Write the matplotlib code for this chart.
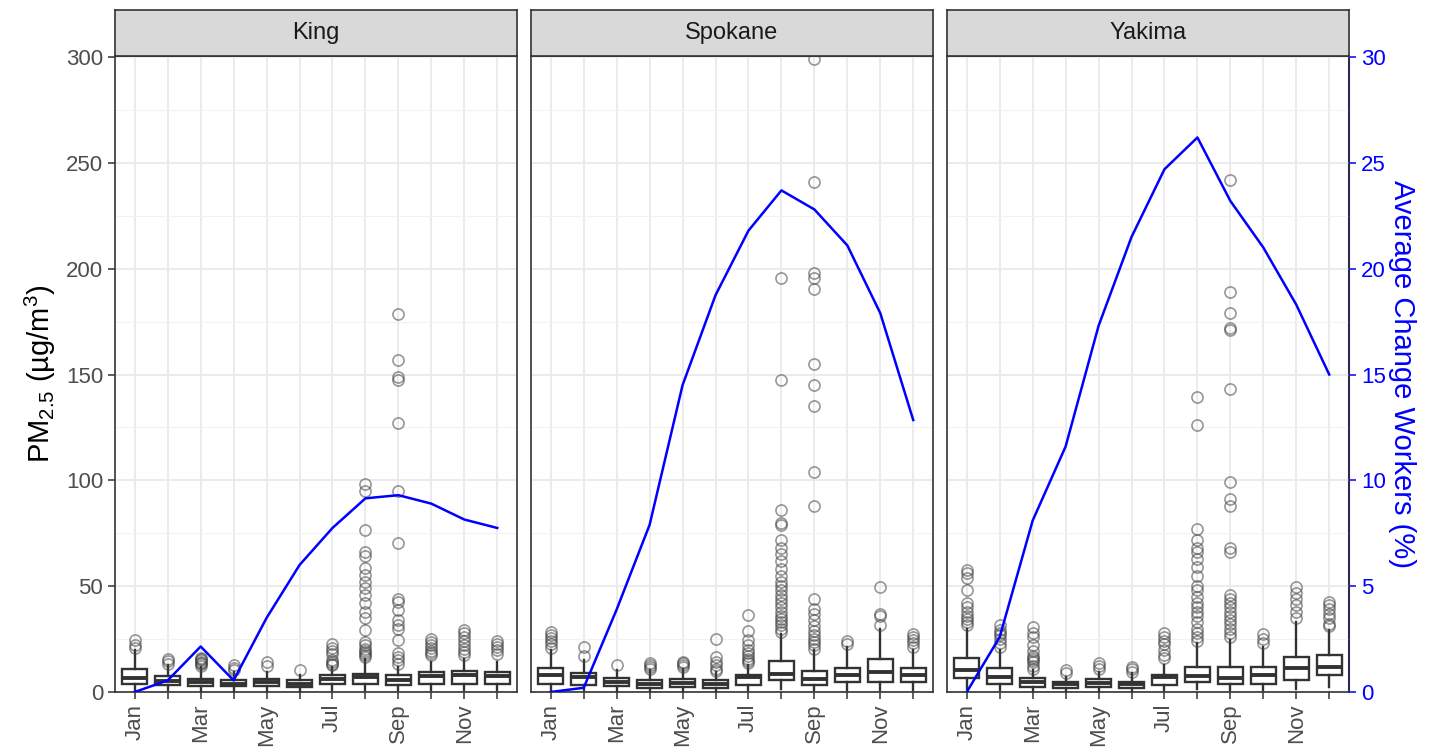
import matplotlib.pyplot as plt
import numpy as np

plt.rcParams['font.family'] = ['Liberation Sans', 'DejaVu Sans']
plt.rcParams['mathtext.fontset'] = 'custom'
plt.rcParams['mathtext.rm'] = 'Liberation Sans'
plt.rcParams['mathtext.it'] = 'Liberation Sans:italic'

months = ['Jan', 'Feb', 'Mar', 'Apr', 'May', 'Jun', 'Jul', 'Aug', 'Sep', 'Oct', 'Nov', 'Dec']
month_labels = ['Jan', '', 'Mar', '', 'May', '', 'Jul', '', 'Sep', '', 'Nov', '']
counties = ['King', 'Spokane', 'Yakima']

# average change of workers (%) by month
king_pct = [0, 0.55, 2.15, 0.55, 3.5, 6.0, 7.75, 9.15, 9.3, 8.9, 8.15, 7.75]
spokane_pct = [0, 0.2, 3.9, 7.9, 14.5, 18.75, 21.8, 23.7, 22.8, 21.1, 17.9, 12.85]
yakima_pct = [0, 2.6, 8.1, 11.6, 17.3, 21.5, 24.7, 26.2, 23.2, 21.0, 18.3, 15.0]

# PM2.5 box statistics
king_q1 = [3.6, 3.1, 2.7, 2.7, 2.7, 2.4, 3.6, 3.9, 3.1, 3.6, 3.6, 3.6]
king_med = [6.4, 5.0, 4.5, 4.0, 4.5, 4.0, 6.0, 7.0, 5.8, 7.6, 8.0, 7.6]
king_q3 = [11.0, 7.4, 6.3, 5.5, 6.3, 5.5, 7.9, 8.7, 7.9, 9.4, 9.9, 9.4]
king_hi = [19.7, 12.6, 11.8, 9.4, 9.4, 7.9, 11.8, 15.7, 11.8, 14.2, 15.7, 14.2]
king_lo = [0.8, 0.8, 0.7, 0.7, 0.7, 0.6, 0.9, 1.0, 0.8, 1.0, 1.0, 1.0]
king_fliers = [
    [21.0, 22.0, 24.4],
    [13.4, 14.6, 15.7],
    [12.5, 13.2, 13.8, 14.4, 15.0, 15.7, 16.3],
    [10.5, 11.5, 12.6],
    [12.1, 14.2],
    [10.2],
    [12.6, 13.4, 14.2, 15.0, 18.0, 19.5, 21.0, 22.5],
    [16.5, 17.5, 18.5, 19.5, 20.5, 22.0, 23.6, 29.1, 34.8, 37.8, 41.9, 45.7, 49.0,
     52.1, 55.1, 58.4, 64.1, 66.1, 76.4, 94.8, 98.4],
    [13.0, 15.0, 16.7, 18.3, 24.4, 30.0, 31.5, 33.9, 38.6, 42.6, 43.8, 70.4, 94.8,
     127.2, 147.2, 148.9, 156.7, 178.7],
    [17.3, 18.5, 19.5, 21.0, 22.0, 23.5, 25.0],
    [17.5, 19.0, 20.5, 22.0, 24.0, 26.0, 28.0, 29.5],
    [18.0, 20.0, 21.3, 22.5, 24.0],
]

spokane_q1 = [3.9, 3.5, 2.7, 2.0, 2.4, 2.0, 3.5, 5.8, 3.1, 4.7, 4.7, 4.7]
spokane_med = [7.9, 7.1, 4.7, 3.9, 4.3, 3.9, 7.1, 8.7, 6.3, 7.9, 9.4, 7.9]
spokane_q3 = [11.5, 9.1, 6.6, 5.5, 6.3, 5.5, 8.2, 14.6, 9.8, 11.3, 15.4, 11.3]
spokane_hi = [19.7, 15.0, 10.2, 10.5, 11.0, 9.4, 12.6, 27.6, 19.7, 21.3, 29.9, 19.7]
spokane_lo = [0.8, 0.8, 0.6, 0.5, 0.6, 0.5, 0.9, 1.2, 0.8, 1.0, 1.0, 1.0]
spokane_fliers = [
    [21.0, 22.5, 24.0, 25.5, 27.0, 28.5],
    [16.9, 21.3],
    [12.6],
    [11.0, 12.0, 12.8, 13.6],
    [11.6, 12.6, 13.6, 14.3],
    [10.0, 11.0, 12.6, 14.2, 16.5, 25.2],
    [13.5, 14.5, 15.7, 17.0, 18.5, 20.0, 22.0, 24.4, 28.8, 36.2],
    [28.5, 30, 31.5, 33, 34.5, 36, 38, 40, 42, 44, 46, 48, 50, 52, 55, 58, 62, 65,
     68, 72, 79, 80, 86, 147.4, 195.6],
    [20.5, 22, 23.5, 25, 27, 29, 31, 34, 37, 39, 44, 88, 103.8, 135, 145, 155,
     190.4, 195.6, 198, 241, 299],
    [22.5, 24.0],
    [31.5, 35.7, 37.0, 49.6],
    [21.3, 23.0, 24.4, 26.0, 27.6],
]

yakima_q1 = [6.5, 3.6, 2.5, 1.7, 2.2, 1.9, 3.3, 4.9, 3.6, 3.8, 5.7, 8.0]
yakima_med = [10.4, 7.2, 4.9, 3.6, 4.1, 3.6, 7.2, 7.6, 6.5, 8.0, 11.2, 12.0]
yakima_q3 = [15.9, 11.2, 6.5, 4.9, 6.0, 4.9, 8.0, 12.0, 12.0, 11.7, 16.7, 17.5]
yakima_hi = [30.0, 19.8, 10.4, 7.2, 9.6, 8.8, 12.8, 23.0, 24.6, 21.4, 33.2, 29.3]
yakima_lo = [1.2, 0.8, 0.6, 0.5, 0.6, 0.5, 0.9, 1.2, 0.9, 1.0, 1.5, 2.5]
yakima_fliers = [
    [31.5, 33, 34.5, 36, 38, 40, 42, 48, 54, 56, 57.6],
    [21.4, 23, 25, 27, 28, 29.5, 31.5],
    [11, 12.5, 14, 15, 16, 17, 19.5, 22, 26, 28, 30.9],
    [8.8, 10.4],
    [11.0, 12.2, 13.5],
    [9.6, 11.0, 12.0],
    [15.9, 17.5, 20.0, 22.5, 24.0, 26.0, 28.0],
    [24, 26, 28, 30, 33, 36, 38, 40, 42, 45, 48, 50, 55, 59, 63, 66, 68, 72, 77,
     126, 139.3],
    [26, 28, 30, 32, 34, 36, 38, 40, 42, 44, 46, 66, 68, 88, 91, 99, 143, 171, 172,
     179, 189, 242],
    [23, 25, 27.5],
    [35, 38, 41, 44, 47, 49.7],
    [31, 32, 35, 37, 39, 41, 42.7],
]

county_data = {
    'King': (king_q1, king_med, king_q3, king_lo, king_hi, king_fliers, king_pct),
    'Spokane': (spokane_q1, spokane_med, spokane_q3, spokane_lo, spokane_hi, spokane_fliers, spokane_pct),
    'Yakima': (yakima_q1, yakima_med, yakima_q3, yakima_lo, yakima_hi, yakima_fliers, yakima_pct),
}

fig = plt.figure(figsize=(14.35, 7.52), dpi=100)

W, H = 1435, 752
lefts = [115, 531, 947]
pw = 402
top, bottom = 56, 692
strip_top = 10

dark = '#333333'
pos = np.arange(1, 13)
axes = []
for i, name in enumerate(counties):
    q1, med, q3, lo, hi, fl, pct = county_data[name]
    ax = fig.add_axes([lefts[i] / W, 1 - bottom / H, pw / W, (bottom - top) / H])
    strip = fig.add_axes([lefts[i] / W, 1 - top / H, pw / W, (top - strip_top) / H])
    strip.set_facecolor('#D9D9D9')
    strip.set_xticks([])
    strip.set_yticks([])
    for s in strip.spines.values():
        s.set_color(dark)
        s.set_linewidth(1.2)
    strip.text(0.5, 0.5, name, ha='center', va='center', fontsize=17, color='#1A1A1A',
               transform=strip.transAxes)

    stats = []
    for k in range(12):
        stats.append(dict(med=med[k], q1=q1[k], q3=q3[k], whislo=lo[k], whishi=hi[k],
                          fliers=fl[k]))
    ax.bxp(stats, positions=pos, widths=0.75, patch_artist=True, showcaps=False,
           boxprops=dict(facecolor='white', edgecolor=dark, linewidth=1.7),
           medianprops=dict(color=dark, linewidth=2.8),
           whiskerprops=dict(color=dark, linewidth=1.7),
           flierprops=dict(marker='o', markerfacecolor='none', markeredgecolor='#444444',
                           alpha=0.55, markersize=8, markeredgewidth=1.2))

    ax.plot(pos, np.array(pct) * 10, color='blue', linewidth=1.8, zorder=5)

    ax.set_xlim(0.4, 12.6)
    ax.set_ylim(0, 300.5)
    ax.set_xticks(pos)
    ax.set_xticklabels(month_labels, rotation=90)
    ax.set_yticks(np.arange(0, 301, 50))
    ax.set_yticks(np.arange(25, 300, 50), minor=True)
    ax.set_axisbelow(True)
    ax.grid(which='major', color='#EBEBEB', linewidth=1.4)
    ax.grid(which='minor', axis='y', color='#F2F2F2', linewidth=0.8)
    ax.tick_params(which='major', length=5, color=dark, width=1.1,
                   labelcolor='#4D4D4D', labelsize=16)
    ax.tick_params(which='minor', length=0)
    for s in ax.spines.values():
        s.set_color(dark)
        s.set_linewidth(1.2)
    if i > 0:
        ax.tick_params(axis='y', labelleft=False, length=0)
    axes.append(ax)

axes[0].set_ylabel('PM$_{2.5}$ (\u00b5g/m$^3$)', fontsize=21, labelpad=6)

sec = axes[2].secondary_yaxis('right', functions=(lambda y: y / 10, lambda y: y * 10))
sec.set_yticks(np.arange(0, 31, 5))
sec.spines['right'].set_color('blue')
sec.spines['right'].set_linewidth(1.5)
sec.tick_params(axis='y', colors='blue', labelcolor='blue', labelsize=16, length=5, width=1.1)
sec.set_ylabel('Average Change Workers (%)', color='blue', fontsize=21, rotation=270,
               labelpad=22)

fig.savefig('out.png', dpi=100)
